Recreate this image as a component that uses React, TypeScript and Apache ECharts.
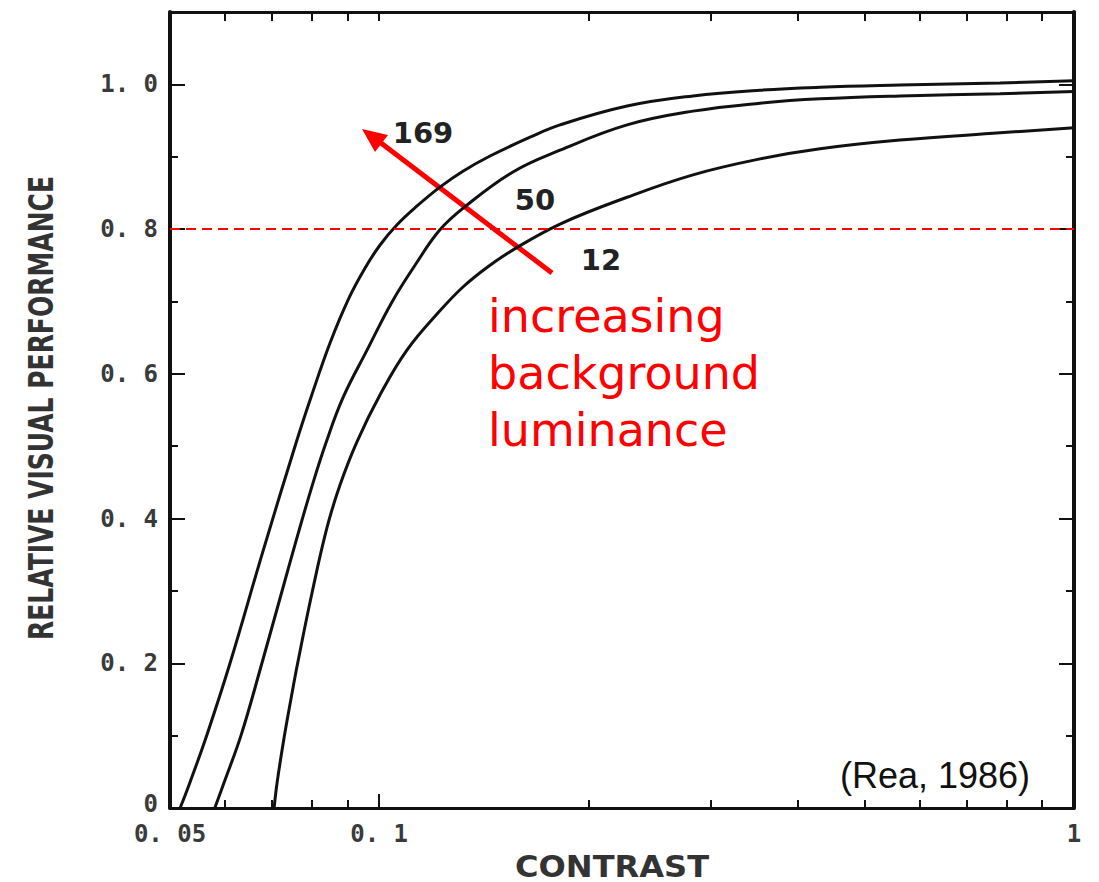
import React, { useEffect, useRef } from 'react';
import * as echarts from 'echarts';

// ---- data ----
const seriesNames = ['169', '50', '12'];

// [contrast, relative visual performance]
const lum169: [number, number][] = [
  [0.0517, 0], [0.0534, 0.035], [0.0565, 0.101], [0.061, 0.2], [0.068, 0.354],
  [0.0759, 0.504], [0.08, 0.571], [0.085, 0.643], [0.0905, 0.705], [0.0954, 0.746],
  [0.1003, 0.778], [0.1061, 0.806], [0.1134, 0.832], [0.1223, 0.858], [0.132, 0.88],
  [0.1444, 0.901], [0.1649, 0.927], [0.1821, 0.944], [0.2274, 0.97], [0.2829, 0.984],
  [0.3533, 0.992], [0.4311, 0.996], [0.5618, 0.999], [0.7825, 1.002], [1.0, 1.005],
];
const lum50: [number, number][] = [
  [0.058, 0], [0.0598, 0.035], [0.0633, 0.101], [0.0678, 0.2], [0.0722, 0.294],
  [0.0767, 0.384], [0.0803, 0.449], [0.0838, 0.504], [0.0887, 0.567], [0.0961, 0.633],
  [0.1043, 0.699], [0.1126, 0.75], [0.1223, 0.799], [0.1329, 0.831], [0.1558, 0.879],
  [0.1821, 0.909], [0.2274, 0.944], [0.2829, 0.963], [0.3533, 0.974], [0.4311, 0.98],
  [0.5618, 0.984], [0.7825, 0.987], [1.0, 0.99],
];
const lum12: [number, number][] = [
  [0.0706, 0], [0.0713, 0.035], [0.073, 0.098], [0.0747, 0.152], [0.0764, 0.202],
  [0.08, 0.296], [0.0841, 0.387], [0.0878, 0.446], [0.0929, 0.506], [0.1003, 0.571],
  [0.1097, 0.633], [0.1223, 0.687], [0.132, 0.72], [0.1434, 0.748], [0.1569, 0.773],
  [0.1821, 0.807], [0.2274, 0.844], [0.2829, 0.875], [0.3533, 0.897], [0.4311, 0.911],
  [0.5618, 0.923], [0.7825, 0.933], [1.0, 0.94],
];

const xLabelValues = [0.05, 0.1, 1];
const xMinorTicks = [0.06, 0.07, 0.08, 0.09, 0.2, 0.3, 0.4, 0.5, 0.6, 0.7, 0.8, 0.9];
const xMajorTicks = [0.1];
const yLabelValues = [0, 0.2, 0.4, 0.6, 0.8, 1.0];
const yMinorTicks = [0.1, 0.3, 0.5, 0.7, 0.9];
const criterionLevel = 0.8;

const yTitle = 'RELATIVE VISUAL PERFORMANCE';
const xTitle = 'CONTRAST';
const annotationLines = ['increasing', 'background', 'luminance'];
const sourceNote = '(Rea, 1986)';

const fmtX = (v: number) =>
  Math.abs(v - 1) < 1e-6 ? '1' : v.toFixed(v < 0.0999 ? 2 : 1).replace('.', '. ');
const fmtY = (v: number) => (Math.abs(v) < 1e-9 ? '{z|0}' : v.toFixed(1).replace('.', '. '));

export default function App() {
  const ref = useRef<HTMLDivElement>(null);

  useEffect(() => {
    document.body.style.margin = '0';
    if (!ref.current) return;
    const chart = echarts.init(ref.current, undefined, { renderer: 'svg' });

    const ink = '#111';
    const tickLabel = {
      fontFamily: 'DejaVu Sans Mono',
      fontWeight: 'bold' as const,
      fontSize: 24,
      color: '#3a3a3a',
    };
    const xCommon = { type: 'log' as const, logBase: 10, min: 0.05, max: 1, splitLine: { show: false } };
    const yCommon = { type: 'value' as const, min: 0, max: 1.1, interval: 0.1, splitLine: { show: false } };
    const tickStyle = { color: ink, width: 2 };

    const lineSeries = (name: string, data: [number, number][], extra: any = {}) => ({
      type: 'line',
      name,
      data,
      xAxisIndex: 0,
      yAxisIndex: 0,
      smooth: 0.4,
      symbol: 'none',
      showSymbol: false,
      lineStyle: { color: ink, width: 3 },
      ...extra,
    });

    chart.setOption({
      animation: false,
      backgroundColor: '#ffffff',
      grid: { left: 170, right: 25, top: 12, bottom: 74 },
      xAxis: [
        {
          ...xCommon,
          position: 'bottom',
          axisLine: { show: true, onZero: false, lineStyle: { color: ink, width: 3 } },
          axisTick: { show: true, inside: true, length: 8, lineStyle: tickStyle, customValues: xMinorTicks },
          axisLabel: { ...tickLabel, customValues: xLabelValues, formatter: fmtX, margin: 14 },
        },
        {
          ...xCommon,
          position: 'bottom',
          axisLine: { show: false },
          axisTick: { show: true, inside: true, length: 14, lineStyle: tickStyle, customValues: xMajorTicks },
          axisLabel: { show: false },
        },
        {
          ...xCommon,
          position: 'top',
          axisLine: { show: true, onZero: false, lineStyle: { color: ink, width: 3 } },
          axisTick: {
            show: true, inside: true, length: 9, lineStyle: tickStyle,
            customValues: [...xMinorTicks, ...xMajorTicks],
          },
          axisLabel: { show: false },
        },
      ],
      yAxis: [
        {
          ...yCommon,
          position: 'left',
          axisLine: { show: true, onZero: false, lineStyle: { color: ink, width: 4 } },
          axisTick: { show: true, inside: true, length: 15, lineStyle: tickStyle, customValues: yLabelValues },
          axisLabel: {
            ...tickLabel,
            customValues: yLabelValues,
            formatter: fmtY,
            margin: 12,
            rich: {
              z: { ...tickLabel, padding: [0, 0, 9, 0] },
            },
          },
        },
        {
          ...yCommon,
          position: 'left',
          axisLine: { show: false },
          axisTick: { show: true, inside: true, length: 8, lineStyle: tickStyle, customValues: yMinorTicks },
          axisLabel: { show: false },
        },
        {
          ...yCommon,
          position: 'right',
          axisLine: { show: true, onZero: false, lineStyle: { color: ink, width: 4 } },
          axisTick: { show: true, inside: true, length: 15, lineStyle: tickStyle, customValues: yLabelValues },
          axisLabel: { show: false },
        },
        {
          ...yCommon,
          position: 'right',
          axisLine: { show: false },
          axisTick: { show: true, inside: true, length: 8, lineStyle: tickStyle, customValues: yMinorTicks },
          axisLabel: { show: false },
        },
      ],
      series: [
        lineSeries(seriesNames[0], lum169, {
          markLine: {
            silent: true,
            symbol: 'none',
            label: { show: false },
            lineStyle: { color: '#ff0000', type: [10, 6], width: 2 },
            data: [{ yAxis: criterionLevel }],
          },
        }),
        lineSeries(seriesNames[1], lum50),
        lineSeries(seriesNames[2], lum12),
      ],
      graphic: [
        {
          type: 'text',
          x: 41,
          y: 408,
          rotation: Math.PI / 2,
          scaleY: 1.35,
          style: {
            text: yTitle,
            font: 'bold 25px "DejaVu Sans"',
            fill: '#333',
            align: 'center',
            verticalAlign: 'middle',
          },
        },
        {
          type: 'text',
          x: 612,
          y: 866,
          scaleX: 1.07,
          style: {
            text: xTitle,
            font: 'bold 30px "DejaVu Sans"',
            fill: '#333',
            align: 'center',
            verticalAlign: 'middle',
          },
        },
        {
          type: 'text', x: 423, y: 133,
          style: { text: seriesNames[0], font: 'bold 29px "DejaVu Sans"', fill: '#222', align: 'center', verticalAlign: 'middle' },
        },
        {
          type: 'text', x: 535, y: 200,
          style: { text: seriesNames[1], font: 'bold 29px "DejaVu Sans"', fill: '#222', align: 'center', verticalAlign: 'middle' },
        },
        {
          type: 'text', x: 601, y: 260,
          style: { text: seriesNames[2], font: 'bold 29px "DejaVu Sans"', fill: '#222', align: 'center', verticalAlign: 'middle' },
        },
        {
          type: 'line',
          shape: { x1: 552, y1: 273, x2: 381, y2: 143 },
          style: { stroke: '#ff0000', lineWidth: 5 },
        },
        {
          type: 'polygon',
          shape: { points: [[362, 129], [388, 135], [375, 152]] },
          style: { fill: '#ff0000' },
        },
        {
          type: 'text',
          x: 488,
          y: 287,
          style: {
            text: annotationLines.join('\n'),
            font: '46px "DejaVu Sans"',
            lineHeight: 57,
            fill: '#ff0000',
            align: 'left',
            verticalAlign: 'top',
          },
        },
        {
          type: 'text',
          x: 1030,
          y: 775,
          style: {
            text: sourceNote,
            font: '36px "Liberation Sans"',
            fill: '#111',
            align: 'right',
            verticalAlign: 'middle',
          },
        },
      ],
    });

    return () => chart.dispose();
  }, []);

  return <div ref={ref} style={{ width: 1099, height: 882 }} />;
}
